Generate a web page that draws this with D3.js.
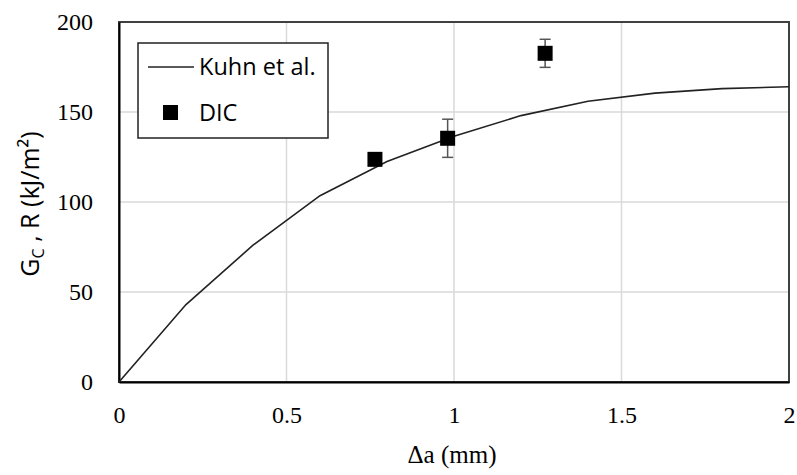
<!DOCTYPE html>
<meta charset="utf-8" />
<style>
  body { margin: 0; background: #fff; }
  .tick text { font-family: "Liberation Serif", serif; font-size: 24px; fill: #000; }
  .legend text { font-family: "Open Sans", sans-serif; font-size: 23.5px; fill: #000; }
</style>
<body>
<script src="https://d3js.org/d3.v7.min.js"></script>
<script>
  // data
  var kuhnX = [0, 0.2, 0.4, 0.6, 0.8, 1.0, 1.2, 1.4, 1.6, 1.8, 2.0];
  var kuhnY = [0, 43, 76, 103.5, 122.5, 136.5, 148, 156, 160.5, 163, 164];
  var dicX = [0.764, 0.981, 1.272];
  var dicY = [123.7, 135.4, 182.6];
  var dicErr = [3, 10.6, 7.8];
  var xTicks = [0, 0.5, 1, 1.5, 2];
  var yTicks = [0, 50, 100, 150, 200];

  var width = 797, height = 475;
  var margin = { top: 22, right: 8, bottom: 93, left: 119 };
  var w = width - margin.left - margin.right,
      h = height - margin.top - margin.bottom;

  var svg = d3.select('body').append('svg')
    .attr('width', width).attr('height', height);
  var g = svg.append('g')
    .attr('transform', 'translate(' + margin.left + ',' + margin.top + ')');

  var x = d3.scaleLinear().domain([0, 2]).range([0, w]);
  var y = d3.scaleLinear().domain([0, 200]).range([h, 0]);

  // gridlines
  g.selectAll('.vgrid').data(xTicks.slice(1)).enter().append('line')
    .attr('x1', d => x(d)).attr('x2', d => x(d))
    .attr('y1', 0).attr('y2', h)
    .attr('stroke', '#d9d9d9').attr('stroke-width', 1.5);
  g.selectAll('.hgrid').data(yTicks.slice(1)).enter().append('line')
    .attr('x1', 0).attr('x2', w)
    .attr('y1', d => y(d)).attr('y2', d => y(d))
    .attr('stroke', '#d9d9d9').attr('stroke-width', 1.5);

  // frame
  g.append('rect').attr('width', w).attr('height', h)
    .attr('fill', 'none').attr('stroke', '#404040').attr('stroke-width', 2);

  // axes
  var xAxis = g.append('g').attr('transform', 'translate(0,' + h + ')')
    .call(d3.axisBottom(x).tickValues(xTicks).tickSize(0).tickPadding(24).tickFormat(d3.format('')));
  var yAxis = g.append('g')
    .call(d3.axisLeft(y).tickValues(yTicks).tickSize(0).tickPadding(26));
  [xAxis, yAxis].forEach(a => a.select('.domain').attr('stroke', '#000').attr('stroke-width', 2));

  // curve
  var line = d3.line().x(d => x(d[0])).y(d => y(d[1]));
  g.append('path').datum(d3.zip(kuhnX, kuhnY))
    .attr('d', line).attr('fill', 'none')
    .attr('stroke', '#222').attr('stroke-width', 1.6);

  // error bars
  var dic = d3.zip(dicX, dicY, dicErr);
  var eb = g.selectAll('.eb').data(dic).enter().append('g')
    .attr('stroke', '#555').attr('stroke-width', 1.5);
  eb.append('line')
    .attr('x1', d => x(d[0])).attr('x2', d => x(d[0]))
    .attr('y1', d => y(d[1] + d[2])).attr('y2', d => y(d[1] - d[2]));
  eb.append('line')
    .attr('x1', d => x(d[0]) - 5.5).attr('x2', d => x(d[0]) + 5.5)
    .attr('y1', d => y(d[1] + d[2])).attr('y2', d => y(d[1] + d[2]));
  eb.append('line')
    .attr('x1', d => x(d[0]) - 5.5).attr('x2', d => x(d[0]) + 5.5)
    .attr('y1', d => y(d[1] - d[2])).attr('y2', d => y(d[1] - d[2]));

  // markers
  g.selectAll('.m').data(dic).enter().append('rect')
    .attr('x', d => x(d[0]) - 7.5).attr('y', d => y(d[1]) - 7.5)
    .attr('width', 15).attr('height', 15).attr('fill', '#000');

  // legend
  var lg = svg.append('g').attr('class', 'legend');
  lg.append('rect').attr('x', 138).attr('y', 43).attr('width', 190).attr('height', 95)
    .attr('fill', '#fff').attr('stroke', '#222').attr('stroke-width', 1.5);
  lg.append('line').attr('x1', 148).attr('x2', 194).attr('y1', 67).attr('y2', 67)
    .attr('stroke', '#222').attr('stroke-width', 1.6);
  lg.append('text').attr('x', 199).attr('y', 75).text('Kuhn et al.');
  lg.append('rect').attr('x', 163).attr('y', 105).attr('width', 15).attr('height', 15).attr('fill', '#000');
  lg.append('text').attr('x', 199).attr('y', 121).text('DIC');

  // axis titles
  svg.append('text')
    .attr('x', margin.left + w / 2 - 2).attr('y', 463)
    .attr('text-anchor', 'middle')
    .style('font-family', '"Liberation Serif", serif').style('font-size', '25px')
    .text('\u0394a (mm)');

  var yt = svg.append('text')
    .attr('transform', 'translate(39,204) rotate(-90)')
    .attr('text-anchor', 'middle')
    .style('font-family', '"Open Sans", sans-serif').style('font-size', '25px');
  yt.append('tspan').text('G');
  yt.append('tspan').attr('dy', 5).style('font-size', '16px').text('C');
  yt.append('tspan').attr('dy', -5).text(' , R (kJ/m\u00B2)');
</script>
</body>
